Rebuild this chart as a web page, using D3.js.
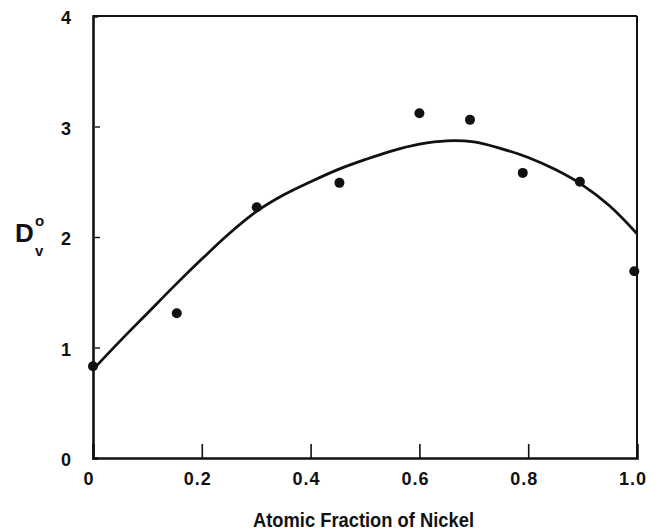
<!DOCTYPE html>
<html>
<head>
<meta charset="utf-8">
<script src="https://cdn.jsdelivr.net/npm/d3@7"></script>
<style>
  html, body { margin: 0; padding: 0; background: #fff; }
  svg { display: block; }
  text { font-family: "Liberation Sans", Arial, sans-serif; font-weight: bold; fill: #111; }
</style>
</head>
<body>
<svg id="chart" width="658" height="532"></svg>
<script>
// ---- data ----
const pointX = [0.0, 0.154, 0.301, 0.453, 0.600, 0.693, 0.790, 0.895, 0.995];
const pointY = [0.83, 1.31, 2.27, 2.49, 3.12, 3.06, 2.58, 2.50, 1.69];
const curveX = [0, 0.05, 0.10, 0.15, 0.20, 0.25, 0.30, 0.35, 0.40, 0.45, 0.50, 0.55, 0.60, 0.65, 0.70, 0.75, 0.80, 0.85, 0.90, 0.95, 1.0];
const curveY = [0.80, 1.06, 1.31, 1.56, 1.80, 2.03, 2.23, 2.38, 2.50, 2.61, 2.70, 2.78, 2.84, 2.87, 2.86, 2.80, 2.72, 2.61, 2.47, 2.28, 2.03];
const xTicks = [0, 0.2, 0.4, 0.6, 0.8, 1.0];
const xTickLabels = ["0", "0.2", "0.4", "0.6", "0.8", "1.0"];
const yTicks = [0, 1, 2, 3, 4];
const yTickLabels = ["0", "1", "2", "3", "4"];
const xTitle = "Atomic Fraction of Nickel";

// ---- layout ----
const svg = d3.select("#chart");
const L = 93, R = 637, T = 16, B = 458;
const x = d3.scaleLinear().domain([0, 1]).range([L, R]);
const y = d3.scaleLinear().domain([0, 4]).range([B, T]);

// frame: top & right thinner
svg.append("line").attr("x1", L).attr("x2", R).attr("y1", T).attr("y2", T)
  .attr("stroke", "#111").attr("stroke-width", 2);
svg.append("line").attr("x1", R).attr("x2", R).attr("y1", T).attr("y2", B)
  .attr("stroke", "#111").attr("stroke-width", 2);

// x axis (ticks inside, upward)
const xAxis = d3.axisBottom(x).tickValues(xTicks.slice(1, -1)).tickSize(-14).tickFormat("");
const gx = svg.append("g").attr("transform", `translate(0,${B})`).call(xAxis);
gx.select(".domain").attr("stroke", "#111").attr("stroke-width", 2.6);
gx.selectAll(".tick line").attr("stroke", "#111").attr("stroke-width", 1.6);

// y axis (ticks inside, rightward)
const yAxis = d3.axisLeft(y).tickValues(yTicks.slice(1, -1)).tickSize(-5).tickPadding(0).tickFormat("");
const gy = svg.append("g").attr("transform", `translate(${L},0)`).call(yAxis);
gy.select(".domain").attr("stroke", "#111").attr("stroke-width", 2.6);
gy.selectAll(".tick line").attr("stroke", "#111").attr("stroke-width", 1.4)
  .attr("transform", "translate(2,0)");

// x tick labels
svg.append("g").selectAll("text").data(xTicks).join("text")
  .attr("x", d => x(d) - 4)
  .attr("y", 485)
  .attr("text-anchor", "middle")
  .attr("font-size", 18)
  .attr("letter-spacing", 1)
  .text((d, i) => xTickLabels[i]);

// y tick labels
svg.append("g").selectAll("text").data(yTicks).join("text")
  .attr("x", 71)
  .attr("y", d => y(d) + 8)
  .attr("text-anchor", "end")
  .attr("font-size", 18)
  .text((d, i) => yTickLabels[i]);

// x title
svg.append("text")
  .attr("x", 253).attr("y", 527)
  .attr("font-size", 20)
  .attr("textLength", 221)
  .attr("lengthAdjust", "spacingAndGlyphs")
  .text(xTitle);

// y title D_v^o
const yt = svg.append("g");
yt.append("text").attr("x", 15).attr("y", 242).attr("font-size", 26).text("D");
yt.append("text").attr("x", 35).attr("y", 226).attr("font-size", 15).text("o");
yt.append("text").attr("x", 35).attr("y", 256).attr("font-size", 15).text("v");

// fitted curve
const curveData = curveX.map((d, i) => [d, curveY[i]]);
const line = d3.line().x(d => x(d[0])).y(d => y(d[1])).curve(d3.curveCatmullRom.alpha(0.5));
svg.append("path").datum(curveData)
  .attr("d", line)
  .attr("fill", "none")
  .attr("stroke", "#111")
  .attr("stroke-width", 2.8)
  .attr("stroke-linejoin", "round");

// points
const pts = pointX.map((d, i) => [d, pointY[i]]);
svg.append("g").selectAll("circle").data(pts).join("circle")
  .attr("cx", d => x(d[0]))
  .attr("cy", d => y(d[1]))
  .attr("r", 5)
  .attr("fill", "#111");
</script>
</body>
</html>
